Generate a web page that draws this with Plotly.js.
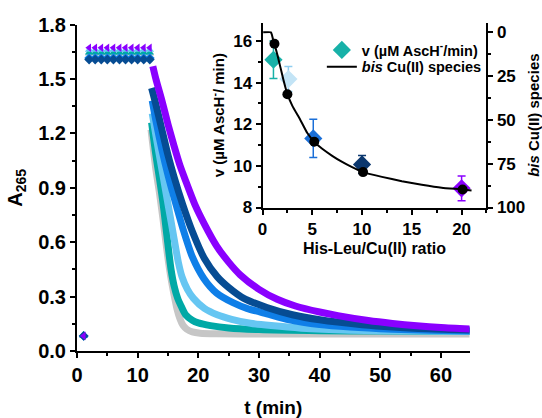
<!DOCTYPE html>
<html><head><meta charset="utf-8">
<script src="https://cdn.plot.ly/plotly-3.0.1.min.js"></script>
<style>html,body{margin:0;padding:0;background:#fff}#chart{width:542px;height:418px}</style>
</head><body><div id="chart"></div>
<script>
// ---------- main panel: A265 vs t (min) ----------
const startT = [1.1];
const startA = [0.083];
const plateauT = [2, 3, 4, 5, 6, 7, 8, 9, 10, 11, 12];

const grayPlateau      = [1.64, 1.64, 1.64, 1.64, 1.64, 1.64, 1.64, 1.64, 1.64, 1.64, 1.64];
const tealPlateau      = [1.645, 1.645, 1.645, 1.645, 1.645, 1.645, 1.645, 1.645, 1.645, 1.645, 1.645];
const lightBluePlateau = [1.66, 1.66, 1.66, 1.66, 1.66, 1.66, 1.66, 1.66, 1.66, 1.66, 1.66];
const bluePlateau      = [1.615, 1.615, 1.615, 1.615, 1.615, 1.615, 1.615, 1.615, 1.615, 1.615, 1.615];
const navyPlateau      = [1.607, 1.607, 1.607, 1.607, 1.607, 1.607, 1.607, 1.607, 1.607, 1.607, 1.607];
const purplePlateau    = [1.672, 1.672, 1.672, 1.672, 1.672, 1.672, 1.672, 1.672, 1.672, 1.672, 1.672];

const grayDecayT = [12.2, 13, 13.6, 14.2, 14.8, 15.4, 16, 16.5, 17, 17.5, 18.1, 19, 20.3, 23, 30, 40, 50, 65];
const grayDecayA = [1.22, 1.0, 0.87, 0.72, 0.56, 0.42, 0.31, 0.23, 0.175, 0.14, 0.12, 0.105, 0.098, 0.095, 0.094, 0.094, 0.094, 0.094];

const tealDecayT = [12.3, 13, 13.6, 14.2, 14.8, 15.5, 16, 16.6, 17.2, 17.9, 19, 20, 22, 25, 30, 40, 50, 65];
const tealDecayA = [1.26, 1.08, 0.95, 0.81, 0.64, 0.45, 0.36, 0.29, 0.245, 0.2, 0.17, 0.155, 0.14, 0.127, 0.118, 0.112, 0.11, 0.108];

const lightBlueDecayT = [12.4, 13, 14, 15, 16, 16.7, 17.3, 18.2, 19.2, 21, 23.1, 25.5, 28.6, 32, 37, 45, 55, 65];
const lightBlueDecayA = [1.31, 1.19, 1.0, 0.81, 0.62, 0.49, 0.41, 0.34, 0.29, 0.235, 0.2, 0.175, 0.153, 0.14, 0.126, 0.115, 0.11, 0.108];

const blueDecayT = [12.4, 13, 14, 15, 16.3, 17.5, 19, 20.9, 23, 25.8, 28, 31.3, 35, 40, 45, 52, 58, 65];
const blueDecayA = [1.38, 1.27, 1.11, 0.97, 0.81, 0.67, 0.52, 0.40, 0.32, 0.265, 0.235, 0.205, 0.172, 0.146, 0.132, 0.12, 0.114, 0.11];

const navyDecayT = [12.3, 13, 14, 15, 16, 17.4, 19, 21, 23.1, 25, 27.5, 31.3, 35.5, 40, 47, 52, 58, 65];
const navyDecayA = [1.45, 1.36, 1.22, 1.08, 0.96, 0.81, 0.66, 0.51, 0.41, 0.35, 0.29, 0.24, 0.2, 0.172, 0.145, 0.132, 0.122, 0.115];

const purpleDecayT = [12.5, 13, 14, 15, 16, 17, 18, 19.4, 21, 23, 25, 26.9, 30, 33, 36, 40, 43, 48, 52, 56, 60, 65];
const purpleDecayA = [1.57, 1.50, 1.38, 1.25, 1.13, 1.02, 0.93, 0.81, 0.70, 0.58, 0.49, 0.42, 0.34, 0.285, 0.248, 0.215, 0.195, 0.168, 0.152, 0.139, 0.129, 0.121];

// ---------- inset: rate and bis species vs His-Leu/Cu(II) ratio ----------
const rateRatio = [1.1, 2.6, 5.1, 10, 20];
const rateV     = [15.1, 14.17, 11.32, 10.07, 8.92];
const rateErr   = [0.9, 0.6, 0.92, 0.43, 0.6];

const bisRatio = [1.2, 2.5, 5.2, 10.1, 20.1];
const bisPct   = [6.5, 35.3, 62.5, 79.8, 89.7];

const bisCurveX = [0.07, 0.85, 0.95, 1.05, 1.2, 1.5, 1.8, 2.1, 2.5, 3.0, 3.8, 4.5, 5.2, 6.0, 7.0, 8.0, 9.0, 10.1, 12, 14, 16, 18, 20.1, 21.0];
const bisCurveY = [0, 0, 1.5, 3.8, 6.5, 13, 20, 27, 35.3, 42, 50, 57.5, 62.5, 66.5, 70.5, 74, 77, 79.8, 82.5, 85, 87, 88.7, 89.7, 90.3];

// ---------- styles ----------
const FONT = 'Arial, "Liberation Sans", sans-serif';
const series = [
  {plateau: grayPlateau, t: grayDecayT, a: grayDecayA, color: '#c6c6c6', symbol: 'triangle-up'},
  {plateau: tealPlateau, t: tealDecayT, a: tealDecayA, color: '#00a9a6', symbol: 'triangle-up'},
  {plateau: lightBluePlateau, t: lightBlueDecayT, a: lightBlueDecayA, color: '#66c6f2', symbol: 'triangle-up'},
  {plateau: bluePlateau, t: blueDecayT, a: blueDecayA, color: '#0f7fe8', symbol: 'diamond'},
  {plateau: navyPlateau, t: navyDecayT, a: navyDecayA, color: '#064c93', symbol: 'diamond'},
  {plateau: purplePlateau, t: purpleDecayT, a: purpleDecayA, color: '#8a00ff', symbol: 'triangle-left'}
];
const rateColors = ['#17b1a8', '#c3e4f6', '#1a6fd8', '#0b376e', '#8a00ff'];
const rateErrColors = ['#17b1a8', '#8fcdf0', '#1a6fd8', '#0b376e', '#8a00ff'];

const traces = [];
series.forEach(s => {
  traces.push({
    x: s.t, y: s.a, xaxis: 'x', yaxis: 'y', mode: 'lines', showlegend: false, hoverinfo: 'skip',
    line: {color: s.color, width: 7, shape: 'spline', smoothing: 0.7}
  });
});
series.forEach(s => {
  traces.push({
    x: startT.concat(plateauT), y: startA.concat(s.plateau), xaxis: 'x', yaxis: 'y',
    mode: 'markers', showlegend: false, hoverinfo: 'skip',
    marker: {symbol: s.symbol, size: 7.5, color: s.color, line: {width: 0}}
  });
});

// inset: bis curve + black dots (right axis)
traces.push({
  x: bisCurveX, y: bisCurveY, xaxis: 'x2', yaxis: 'y3', mode: 'lines',
  name: '<i>bis</i> Cu(II) species', showlegend: true, legend: 'legend2',
  line: {color: '#000', width: 2, shape: 'spline', smoothing: 0.4}
});
traces.push({
  x: bisRatio, y: bisPct, xaxis: 'x2', yaxis: 'y3', mode: 'markers', showlegend: false,
  marker: {symbol: 'circle', size: 10, color: '#000'}
});
// rate diamonds with error bars
rateRatio.forEach((r, i) => {
  traces.push({
    x: [r], y: [rateV[i]], xaxis: 'x2', yaxis: 'y2', mode: 'markers', showlegend: false,
    marker: {symbol: 'diamond', size: 14, color: rateColors[i], line: {width: 0}},
    error_y: {type: 'data', array: [rateErr[i]], visible: true, color: rateErrColors[i], thickness: 1.5, width: 4}
  });
});
// legend entry for rate
traces.push({
  x: [null], y: [null], xaxis: 'x2', yaxis: 'y2', mode: 'markers',
  name: 'v (µM AscH<sup>-</sup>/min)', showlegend: true, legend: 'legend',
  marker: {symbol: 'diamond', size: 14, color: '#17b1a8'}
});

const axBase = {
  showline: true, linewidth: 2, linecolor: '#000', mirror: false,
  ticks: 'outside', tickwidth: 2, tickcolor: '#000',
  showgrid: false, zeroline: false, automargin: false, fixedrange: true
};
const tickFontMain = {family: FONT, size: 20, color: '#000', weight: 'bold'};
const tickFontInset = {family: FONT, size: 17, color: '#000', weight: 'bold'};
const legendFont = {family: FONT, size: 14.5, color: '#000', weight: 'bold'};

const layout = {
  width: 542, height: 418,
  margin: {l: 77, r: 50, t: 20, b: 67},
  paper_bgcolor: '#fff', plot_bgcolor: 'rgba(0,0,0,0)',
  font: {family: FONT, color: '#000'},
  showlegend: true,
  legend: {
    x: 0.590, y: 0.9094, xanchor: 'left', yanchor: 'middle',
    bgcolor: 'rgba(0,0,0,0)', borderwidth: 0, font: legendFont, itemwidth: 30
  },
  legend2: {
    x: 0.590, y: 0.8589, xanchor: 'left', yanchor: 'middle',
    bgcolor: 'rgba(0,0,0,0)', borderwidth: 0, font: legendFont, itemwidth: 30
  },
  xaxis: Object.assign({}, axBase, {
    domain: [0, 0.9458], anchor: 'y', range: [0, 64.7],
    tick0: 0, dtick: 10, ticklen: 5,
    minor: {dtick: 5, ticklen: 3, tickwidth: 2, ticks: 'outside', tickcolor: '#000'},
    tickfont: tickFontMain,
    title: {text: 't (min)', font: {family: FONT, size: 19, weight: 'bold'}, standoff: 18}
  }),
  yaxis: Object.assign({}, axBase, {
    domain: [0, 0.9864], anchor: 'x', range: [0, 1.8],
    tick0: 0, dtick: 0.3, tickformat: '.1f', ticklen: 5,
    minor: {dtick: 0.15, ticklen: 3, tickwidth: 2, ticks: 'outside', tickcolor: '#000'},
    tickfont: tickFontMain,
    title: {text: 'A<sub>265</sub>', font: {family: FONT, size: 20, weight: 'bold'}, standoff: 10}
  }),
  xaxis2: Object.assign({}, axBase, {
    domain: [0.447, 0.9867], anchor: 'y2', range: [0, 22.5],
    tick0: 0, dtick: 5, ticklen: 5,
    minor: {dtick: 2.5, ticklen: 3, tickwidth: 2, ticks: 'outside', tickcolor: '#000'},
    tickfont: tickFontInset,
    title: {text: 'His-Leu/Cu(II) ratio', font: {family: FONT, size: 16, weight: 'bold'}, standoff: 5}
  }),
  yaxis2: Object.assign({}, axBase, {
    domain: [0.4335, 0.9918], anchor: 'x2', range: [8, 16.88],
    tick0: 8, dtick: 2, ticklen: 5,
    minor: {dtick: 1, ticklen: 3, tickwidth: 2, ticks: 'outside', tickcolor: '#000'},
    tickfont: tickFontInset,
    title: {text: 'v (µM AscH<sup>-</sup>/ min)', font: {family: FONT, size: 15, weight: 'bold'}, standoff: 5}
  }),
  yaxis3: Object.assign({}, axBase, {
    overlaying: 'y2', side: 'right', anchor: 'x2', range: [100, -5.5],
    tickvals: [0, 25, 50, 75, 100], ticklen: 5,
    minor: {tickvals: [12.5, 37.5, 62.5, 87.5], ticklen: 3, tickwidth: 2, ticks: 'outside', tickcolor: '#000'},
    tickfont: tickFontInset,
    title: {text: '<i>bis</i> Cu(II) species', font: {family: FONT, size: 15, weight: 'bold'}, standoff: 12}
  })
};

Plotly.newPlot('chart', traces, layout, {displayModeBar: false, staticPlot: true});
</script>
</body></html>
